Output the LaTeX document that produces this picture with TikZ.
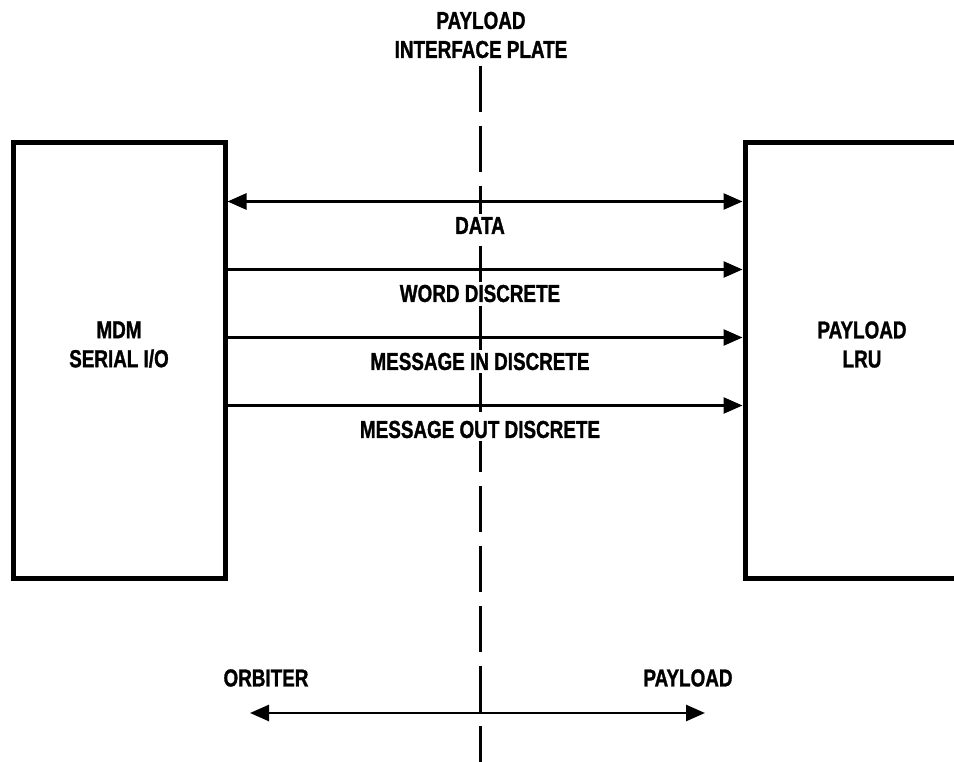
\documentclass[tikz,border=0pt]{standalone}
\usepackage{fontspec}
\setmainfont[FakeStretch=0.77,FakeBold=1.2]{Liberation Sans}
\usetikzlibrary{arrows.meta,calc}

\begin{document}
\begin{tikzpicture}[x=1pt, y=-1pt,
    every node/.style={font=\fontsize{24.5}{29}\selectfont\bfseries, align=center},
    >={Triangle[length=19pt,width=16pt]},
    unit/.style={draw, line width=5pt, inner sep=0pt},
    sig/.style={line width=2.6pt},
    sigtext/.style={fill=white, inner sep=3pt},
    plate/.style={line width=3pt, dash pattern=on 46pt off 14pt}]
    \clip (0,0) rectangle (954,762);

    % Interface plate
    \node (plate) at (481,35) {PAYLOAD\\INTERFACE PLATE};
    \coordinate (ptop) at (480,66);
    \coordinate (pbot) at (480,766);
    \draw[plate] (ptop) -- (pbot);

    % Orbiter side and payload side
    \node[unit, minimum width=212pt, minimum height=435pt,
          label={[yshift=16pt]center:{MDM\\SERIAL I/O}}] (mdm) at (119,360.5) {};
    \node[unit, minimum width=234pt, minimum height=435pt,
          label={[yshift=16pt]center:{PAYLOAD\\LRU}}] (lru) at (862,360.5) {};

    % Data (both ways)
    \draw[sig, <->] ([yshift=-61pt]mdm.north east) coordinate (data) -- ([yshift=-61pt]lru.north west);
    \node[sigtext] (data-lbl) at ($(ptop |- data)+(0,24)$) {DATA};

    % Discretes
    \foreach \name/\dy/\txt in {word/129/WORD DISCRETE, msgin/197/MESSAGE IN DISCRETE, msgout/265/MESSAGE OUT DISCRETE} {
        \draw[sig, ->] ([yshift=-\dy pt]mdm.north east) coordinate (\name) -- ([yshift=-\dy pt]lru.north west);
        \node[sigtext] (\name-lbl) at ($(ptop |- \name)+(0,24)$) {\txt};
    }

    % Orbiter / payload legend
    \node (orbiter) at (266,678) {ORBITER};
    \node (payload) at (688,678) {PAYLOAD};
    \coordinate (oend) at (250,713);
    \coordinate (pend) at (705,713);
    \draw[sig, <->] (oend) -- (pend);
\end{tikzpicture}
\end{document}
